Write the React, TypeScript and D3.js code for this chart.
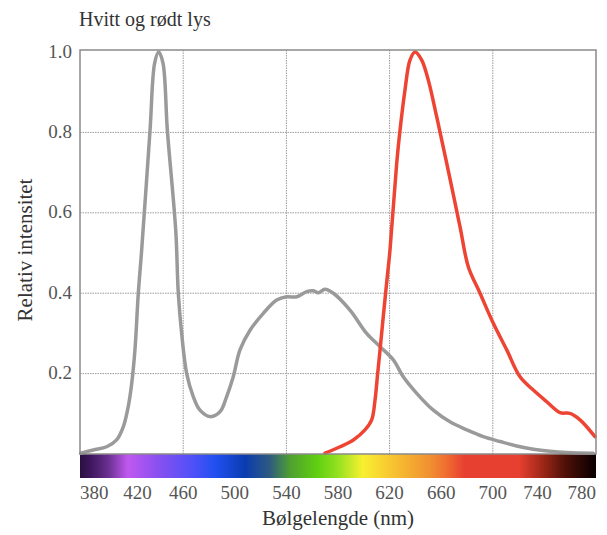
import React from "react";
import * as d3 from "d3";

const title = "Hvitt og rødt lys";
const xTitle = "Bølgelengde (nm)";
const yTitle = "Relativ intensitet";

const xTicks = [380, 420, 460, 500, 540, 580, 620, 660, 700, 740, 780];
const xGrid = [460, 540, 620, 700];
const yTicks = [0.2, 0.4, 0.6, 0.8, 1.0];

const whiteWl = [380.5, 390.3, 400.7, 408.4, 413.6, 417.4, 420.1, 422.6, 425.2, 427.8, 434.3, 437.9, 441.0, 444.3, 447.7, 454.2, 456.2, 458.8, 462.7, 467.8, 473.0, 480.8, 488.5, 493.7, 498.8, 504.0, 511.8, 522.1, 532.5, 540.2, 548.0, 555.7, 560.9, 564.7, 569.9, 576.4, 589.3, 602.2, 612.6, 622.9, 630.6, 641.0, 653.9, 666.8, 679.8, 692.6, 705.6, 718.5, 731.4, 744.3, 757.3, 777.9];
const whiteVal = [0.002, 0.010, 0.018, 0.035, 0.068, 0.118, 0.176, 0.259, 0.40, 0.507, 0.806, 0.973, 1.0, 0.973, 0.806, 0.557, 0.40, 0.30, 0.20, 0.143, 0.109, 0.093, 0.105, 0.143, 0.192, 0.259, 0.308, 0.35, 0.383, 0.391, 0.391, 0.404, 0.406, 0.401, 0.41, 0.40, 0.358, 0.30, 0.267, 0.234, 0.192, 0.151, 0.109, 0.080, 0.06, 0.043, 0.031, 0.02, 0.012, 0.007, 0.004, 0.002];

const redWl = [569.9, 581.6, 591.9, 600.9, 606.1, 608.7, 610.5, 612.6, 615.1, 618.2, 620.3, 625.5, 628.1, 631.9, 635.8, 639.7, 644.9, 650.0, 656.5, 664.3, 674.6, 681.0, 690.1, 700.4, 710.8, 721.1, 731.4, 741.8, 752.1, 759.8, 767.6, 779.2];
const redVal = [0.002, 0.018, 0.035, 0.06, 0.085, 0.134, 0.192, 0.259, 0.342, 0.441, 0.507, 0.723, 0.806, 0.905, 0.980, 1.0, 0.98, 0.930, 0.839, 0.723, 0.565, 0.466, 0.40, 0.325, 0.259, 0.192, 0.159, 0.13, 0.103, 0.101, 0.085, 0.043];

const spectrumWl = [380, 389, 402, 417, 440, 467, 485, 508, 527, 543, 564, 579, 599, 620, 651, 663, 678, 720, 738, 756, 777, 780];
const spectrumColor = ["#2a1040", "#401860", "#6a3090", "#c058f0", "#8a50f0", "#5050f8", "#2050f0", "#0a3cb0", "#2e5a80", "#4fa030", "#60d010", "#90e020", "#f8f030", "#f8c830", "#f09030", "#f07030", "#e84030", "#e84030", "#a02818", "#501008", "#100000", "#0a0000"];

const W = 607, H = 535;
const left = 80, right = 596, top = 50, bottom = 454, barH = 24;
const font = "'Liberation Serif', 'Times New Roman', serif";

export default function App() {
  const x = d3.scaleLinear().domain([380, 780]).range([left, right]);
  const y = d3.scaleLinear().domain([0, 1.005]).range([bottom, top]);
  const line = d3
    .line<[number, number]>()
    .x((d) => x(d[0]))
    .y((d) => y(d[1]))
    .curve(d3.curveCatmullRom.alpha(0.5));
  const white = whiteWl.map((w, i) => [w, whiteVal[i]] as [number, number]);
  const red = redWl.map((w, i) => [w, redVal[i]] as [number, number]);
  const [d0, d1] = x.domain();
  const n = xTicks.length;

  return (
    <svg width={W} height={H} style={{ position: "absolute", left: 0, top: 0, background: "#fff" }} fontFamily={font}>
      <defs>
        <linearGradient id="spec" gradientUnits="userSpaceOnUse" x1={x(d0)} x2={x(d1)} y1={0} y2={0}>
          {spectrumWl.map((w, i) => (
            <stop key={i} offset={(w - d0) / (d1 - d0)} stopColor={spectrumColor[i]} />
          ))}
        </linearGradient>
      </defs>
      <rect x={0} y={0} width={W} height={H} fill="#fff" />
      <text x={79} y={26} fontSize={20} fill="#333">{title}</text>
      {yTicks.filter((v) => v < 1).map((v) => (
        <line key={"gy" + v} x1={left} x2={right} y1={y(v)} y2={y(v)} stroke="#9a9a9a" strokeWidth={1} strokeDasharray="1.5,1" />
      ))}
      {xGrid.map((w) => (
        <line key={"gx" + w} x1={x(w)} x2={x(w)} y1={top} y2={bottom} stroke="#9a9a9a" strokeWidth={1} strokeDasharray="1.5,1" />
      ))}
      <rect x={left} y={bottom} width={right - left} height={barH} fill="url(#spec)" />
      <path d={line(white) || ""} fill="none" stroke="#9a9a9a" strokeWidth={3.5} strokeLinejoin="round" strokeLinecap="round" />
      <path d={line(red) || ""} fill="none" stroke="#ee4433" strokeWidth={3.5} strokeLinejoin="round" strokeLinecap="round" />
      <rect x={left} y={top} width={right - left} height={bottom - top} fill="none" stroke="#8a8a8a" strokeWidth={1.5} />
      {yTicks.map((v) => (
        <text key={"ty" + v} x={72} y={y(v) - 1} dy="0.35em" textAnchor="end" fontSize={19} fill="#555">
          {d3.format(".1f")(v)}
        </text>
      ))}
      {xTicks.map((w, i) => (
        <text
          key={"tx" + w}
          x={x(w)}
          dx={i === 1 ? 6 : i === n - 2 ? -7 : 0}
          y={499}
          textAnchor={i === 0 ? "start" : i === n - 1 ? "end" : "middle"}
          fontSize={19}
          fill="#555"
        >
          {w}
        </text>
      ))}
      <text x={(left + right) / 2} y={525} textAnchor="middle" fontSize={21} fill="#333">{xTitle}</text>
      <text transform={`translate(32, 250) rotate(-90)`} textAnchor="middle" fontSize={21} fill="#333">{yTitle}</text>
    </svg>
  );
}
